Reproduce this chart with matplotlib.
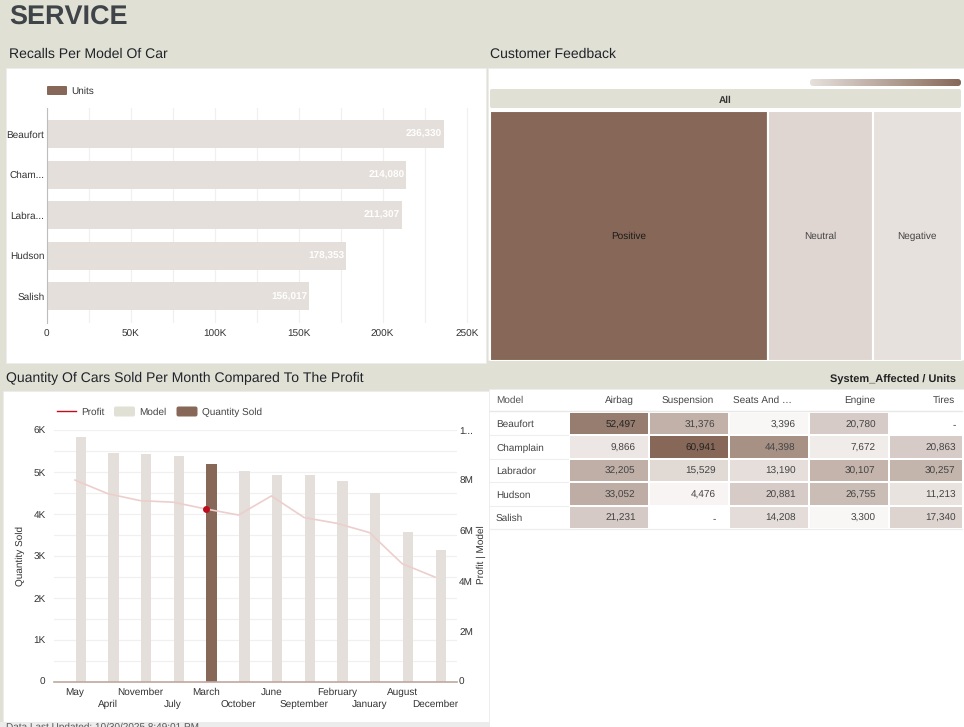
import numpy as np
import matplotlib
matplotlib.use('Agg')
import matplotlib.pyplot as plt
from matplotlib.colors import LinearSegmentedColormap
from matplotlib.patches import FancyBboxPatch, Rectangle
from matplotlib.lines import Line2D

plt.rcParams['font.family'] = ['Liberation Sans', 'DejaVu Sans']
plt.rcParams['text.hinting'] = 'no_hinting'
plt.rcParams['text.hinting_factor'] = 1

W, H = 964, 727

# data
models_short = ['Beaufort', 'Cham...', 'Labra...', 'Hudson', 'Salish']
recalls = [236330, 214080, 211307, 178353, 156017]

feedback = ['Positive', 'Neutral', 'Negative']
feedback_share = [58.9, 22.3, 18.8]
feedback_level = [1.0, 0.27, 0.2]

months = ['May', 'April', 'November', 'July', 'March', 'October',
          'June', 'September', 'February', 'January', 'August', 'December']
quantity = [5841, 5451, 5435, 5387, 5188, 5021, 4934, 4934, 4790, 4496, 3581, 3151]
profit = [8.02, 7.48, 7.20, 7.14, 6.87, 6.63, 7.39, 6.53, 6.30, 5.93, 4.69, 4.16]
highlight = 'March'

table_models = ['Beaufort', 'Champlain', 'Labrador', 'Hudson', 'Salish']
systems = ['Airbag', 'Suspension', 'Seats And …', 'Engine', 'Tires']
units = [
    [52497, 31376, 3396, 20780, np.nan],
    [9866, 60941, 44398, 7672, 20863],
    [32205, 15529, 13190, 30107, 30257],
    [33052, 4476, 20881, 26755, 11213],
    [21231, np.nan, 14208, 3300, 17340],
]

BG = '#e0e0d4'
BROWN = '#876858'
PALE = '#e4dfda'
GRID = '#f0f0f0'
TXT = '#333333'
RED = '#c00d1e'

fig = plt.figure(figsize=(W / 100, H / 100), dpi=100, facecolor=BG)


def axpx(l, t, r, b, **kw):
    return fig.add_axes([l / W, 1 - b / H, (r - l) / W, (b - t) / H], **kw)


def px_text(x, y, s, **kw):
    kw.setdefault('ha', 'left')
    kw.setdefault('va', 'center')
    kw.setdefault('color', TXT)
    return fig.text(x / W, 1 - y / H, s, **kw)


def rounded(l, t, r, b, color, z=-3, rad=2.0):
    # figure pixels used directly so the corners stay round
    p = FancyBboxPatch((l, H - b), r - l, b - t, boxstyle=f'round,pad=0,rounding_size={rad}',
                       transform=None, facecolor=color, edgecolor='none', zorder=z)
    fig.patches.append(p)
    return p


def panel(l, t, r, b):
    fig.patches.append(Rectangle((l / W, 1 - b / H), (r - l) / W, (b - t) / H,
                                 transform=fig.transFigure, facecolor='white',
                                 edgecolor='#ececec', lw=0.6, zorder=-5))


# white cards behind the charts
panel(6, 68, 486, 363)
panel(488, 68, 964, 360)
panel(3, 391, 489, 722)
panel(489, 389, 964, 727)
fig.patches.append(Rectangle((0, 0), 489 / W, 5 / H, transform=fig.transFigure,
                             facecolor='#ececec', edgecolor='none', zorder=-4))

# headings
px_text(9, 18, 'SERVICE', fontsize=19.3, fontweight='bold', color='#3f4448')
px_text(9, 54, 'Recalls Per Model Of Car', fontsize=10.4, color='#20242a')
px_text(489.5, 54, 'Customer Feedback', fontsize=10.4, color='#20242a')
px_text(6, 378, 'Quantity Of Cars Sold Per Month Compared To The Profit',
        fontsize=10.4, color='#20242a')
px_text(956, 379.5, 'System_Affected / Units', fontsize=8, fontweight='bold',
        ha='right', color='#222222')
px_text(6, 727, 'Data Last Updated: 10/30/2025 8:49:01 PM', fontsize=7.2, color='#555555')

# --- recalls bar chart
ax = axpx(46.5, 108, 486, 323)
ypos = np.arange(len(recalls))
ax.barh(ypos, recalls, height=0.69, color=PALE, zorder=2)
ax.set_xlim(0, 250000 * (486 - 46.5) / (466.7 - 46.5))
ax.set_ylim(4.656, -0.64)
ax.set_xticks(np.arange(0, 250001, 50000))
ax.set_xticklabels(['0', '50K', '100K', '150K', '200K', '250K'], fontsize=7.2, color=TXT)
ax.set_xticks(np.arange(25000, 250000, 50000), minor=True)
ax.grid(True, axis='x', which='both', color=GRID, lw=0.9, zorder=0)
ax.set_yticks(ypos)
ax.set_yticklabels(models_short, fontsize=7.2, color=TXT)
ax.tick_params(axis='both', which='both', length=0)
ax.tick_params(axis='x', pad=5)
ax.tick_params(axis='y', pad=1.5)
for s in ['top', 'right', 'bottom']:
    ax.spines[s].set_visible(False)
ax.spines['left'].set_color('#bdbdbd')
ax.patch.set_alpha(0)
for i, v in enumerate(recalls):
    ax.text(v - 1000, i, f'{v:,}', ha='right', va='center', color='white',
            fontsize=7.2, fontweight='bold', zorder=3)

rounded(47, 86, 67, 95, BROWN, z=1, rad=1)
px_text(71, 91, 'Units', fontsize=7.3)

# --- customer feedback treemap
px_text(725.5, 100, 'All', fontsize=7.3, fontweight='bold', ha='center')
rounded(490, 89, 961, 108, BG)
ax = axpx(810, 79, 961, 86)
im = ax.imshow(np.linspace(0, 1, 200)[None, :], aspect='auto',
               cmap=LinearSegmentedColormap.from_list('fb', ['#e6e1dc', BROWN]))
ax.axis('off')
im.set_clip_path(rounded(810, 79, 961, 86, 'none', rad=3))

cmap_fb = LinearSegmentedColormap.from_list('fb', ['white', BROWN])
ax = axpx(489.5, 111, 961.5, 361)
lefts = np.concatenate([[0], np.cumsum(feedback_share)[:-1]])
ax.barh([0] * 3, feedback_share, left=lefts, height=1,
        color=[cmap_fb(v) for v in feedback_level], edgecolor='white', linewidth=1.5)
ax.set_xlim(0, sum(feedback_share))
ax.set_ylim(-0.5, 0.5)
ax.axis('off')
for name, l, w in zip(feedback, lefts, feedback_share):
    ax.text(l + w / 2, 0.0, name, ha='center', va='center', fontsize=7,
            color='#1a1a1a' if name == 'Positive' else '#444444')

# --- quantity vs profit
ax = axpx(54, 430.3, 457, 681.7)
xpos = np.arange(len(months))
step = 32.73
ax.set_xlim(-(75 - 54) / step, (457 - 75) / step)
ax.set_ylim(0, 6000)
bar_colors = [BROWN if m == highlight else PALE for m in months]
ax.bar(xpos + 0.175, quantity, width=0.315, color=bar_colors, zorder=2)
ax.set_yticks(np.arange(0, 6001, 1000))
ax.set_yticklabels(['0', '1K', '2K', '3K', '4K', '5K', '6K'], fontsize=7.2, color=TXT)
ax.set_yticks(np.arange(500, 6000, 1000), minor=True)
ax.grid(True, axis='y', which='both', color=GRID, lw=0.9, zorder=0)
ax.set_xticks(xpos)
ax.set_xticklabels(months, fontsize=7.2, color=TXT)
ax.tick_params(axis='both', which='both', length=0)
ax.tick_params(axis='y', pad=6)
# month labels sit on two staggered rows
for i, tick in enumerate(ax.xaxis.get_major_ticks()):
    tick.set_pad(4.5 if i % 2 == 0 else 13)
for s in ['top', 'right', 'left']:
    ax.spines[s].set_visible(False)
ax.spines['bottom'].set_color('#bfa89c')
ax.spines['bottom'].set_linewidth(1.2)
ax.spines['bottom'].set_zorder(5)
ax.patch.set_alpha(0)
ax.set_ylabel('Quantity Sold', fontsize=6.9, color=TXT, labelpad=6)

ax2 = ax.twinx()
ax2.set_ylim(0, 10)
ax2.plot(xpos, profit, color='#eccfcc', lw=1.2, zorder=4)
hl = months.index(highlight)
ax2.plot([hl], [profit[hl]], 'o', color=RED, ms=4, zorder=5)
ax2.set_yticks([0, 2, 4, 6, 8, 10])
ax2.set_yticklabels(['0', '2M', '4M', '6M', '8M', '1...'], fontsize=7.2, color=TXT)
ax2.tick_params(axis='y', length=0, pad=1.5)
for s in ['top', 'right', 'left', 'bottom']:
    ax2.spines[s].set_visible(False)
px_text(481.5, 555, 'Profit | Model', fontsize=6.9, rotation=90, ha='center')

# combo legend
fig.add_artist(Line2D([56.5 / W, 76 / W], [1 - 411.5 / H] * 2, color=RED, lw=1))
px_text(81, 412, 'Profit', fontsize=7.4, color='#444444')
rounded(114, 406.5, 135, 416.5, BG, z=1)
px_text(139.5, 412, 'Model', fontsize=7.4, color='#444444')
rounded(176.5, 406.5, 197.5, 416.5, BROWN, z=1)
px_text(202, 412, 'Quantity Sold', fontsize=7.4, color='#444444')

# --- system / model matrix
cmap_tb = LinearSegmentedColormap.from_list('tb', ['#ffffff', BROWN])
ax = axpx(568.5, 412, 961.5, 529)
vals = np.array(units, dtype=float)
mesh = ax.pcolormesh(np.arange(6), np.arange(6), np.ma.masked_invalid(vals),
                     cmap=cmap_tb, vmin=0, vmax=np.nanmax(vals),
                     edgecolors='white', linewidth=1.2)
ax.set_xlim(0, 393 / 80)
ax.set_ylim(5, 0)
ax.axis('off')
for r, row in enumerate(units):
    px_text(496, 412 + 23.4 * (r + 0.5), table_models[r], fontsize=7, color='#444444',
            va='center_baseline')
    for c, v in enumerate(row):
        s = '-' if np.isnan(v) else f'{v:,.0f}'
        ax.text(c + 0.84, r + 0.5, s, ha='right', va='center_baseline', fontsize=7,
                color='#222222' if v > 50000 else '#444444')
px_text(496, 400.5, 'Model', fontsize=7, color='#555555')
for c, name in enumerate(systems):
    right = [634, 714, 792, 875, 955][c]
    px_text(right, 400.5, name, fontsize=7, ha='right', color='#444444')
fig.add_artist(Line2D([490 / W, 962 / W], [1 - 411.5 / H] * 2, color='#e8e8e8', lw=1))
fig.add_artist(Line2D([490 / W, 962 / W], [1 - 529 / H] * 2, color='#ececec', lw=0.8))
for r in range(1, 6):
    fig.add_artist(Line2D([490 / W, 568 / W], [1 - (412 + 23.4 * r) / H] * 2,
                          color='#eeeeee', lw=0.8))

fig.savefig('out.png', dpi=100, facecolor=fig.get_facecolor())
